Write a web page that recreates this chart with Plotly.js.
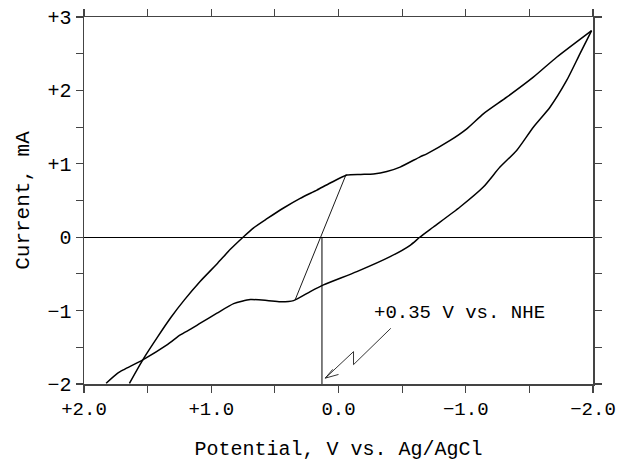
<!DOCTYPE html>
<html>
<head>
<meta charset="utf-8">
<script src="https://cdn.plot.ly/plotly-3.0.1.min.js"></script>
<style>html,body{margin:0;padding:0;background:#fff}#chart{width:620px;height:462px}</style>
</head>
<body>
<div id="chart"></div>
<script>
// Forward (upper) sweep: potential V vs Ag/AgCl, current mA
const forwardV = [1.643, 1.538, 1.420, 1.316, 1.211, 1.086, 0.950, 0.850, 0.746, 0.667, 0.562, 0.432, 0.301, 0.170, 0.065, -0.066, -0.175, -0.275, -0.380, -0.484, -0.641, -0.694, -0.877, -1.008, -1.138, -1.322, -1.531, -1.714, -1.989];
const forwardI = [-1.99, -1.67, -1.354, -1.09, -0.854, -0.60, -0.355, -0.165, 0.007, 0.128, 0.252, 0.398, 0.529, 0.642, 0.738, 0.846, 0.855, 0.862, 0.895, 0.955, 1.095, 1.136, 1.318, 1.476, 1.68, 1.907, 2.18, 2.452, 2.815];
// Reverse (lower) sweep
const reverseV = [-1.989, -1.897, -1.793, -1.662, -1.531, -1.400, -1.269, -1.138, -0.955, -0.746, -0.641, -0.563, -0.406, -0.144, 0.118, 0.222, 0.353, 0.458, 0.562, 0.693, 0.824, 0.955, 1.086, 1.159, 1.243, 1.342, 1.538, 1.682, 1.735, 1.826];
const reverseI = [2.815, 2.497, 2.135, 1.771, 1.499, 1.182, 0.955, 0.683, 0.411, 0.139, 0.003, -0.11, -0.265, -0.469, -0.650, -0.741, -0.864, -0.880, -0.862, -0.850, -0.905, -1.035, -1.172, -1.25, -1.331, -1.46, -1.67, -1.80, -1.852, -1.99];
// Construction lines
const tieV = [0.340, -0.060];
const tieI = [-0.85, 0.856];
const markV = [0.13, 0.13];
const markI = [0, -2];
// Lightning arrow path and open arrowhead
const boltV = [-0.411, -0.118, -0.118, 0.104];
const boltI = [-1.241, -1.736, -1.559, -1.92];
const headV = [0.045, 0.104, 0.0];
const headI = [-1.80, -1.92, -1.87];
const noteText = "+0.35 V vs. NHE";
const noteV = -0.95;
const noteI = -1.03;
// Ticks (every 0.5, labelled at whole numbers)
const xTickVals = [2, 1.5, 1, 0.5, 0, -0.5, -1, -1.5, -2];
const xTickText = ["+2.0", "", "+1.0", "", "0.0", "", "\u22121.0", "", "\u22122.0"];
const yTickVals = [3, 2.5, 2, 1.5, 1, 0.5, 0, -0.5, -1, -1.5, -2];
const yTickText = ["+3", "", "+2", "", "+1", "", "0", "", "\u22121", "", "\u22122"];

const FONT = "Liberation Mono, Courier New, monospace";
const line = (x, y, w) => ({x: x, y: y, type: 'scatter', mode: 'lines', line: {color: '#000', width: w, shape: 'spline', smoothing: 0.6}, hoverinfo: 'skip', showlegend: false});
const straight = (x, y, w) => ({x: x, y: y, type: 'scatter', mode: 'lines', line: {color: '#000', width: w}, hoverinfo: 'skip', showlegend: false});

const traces = [
  line(forwardV, forwardI, 1.5),
  line(reverseV, reverseI, 1.5),
  straight(tieV, tieI, 0.9),
  straight(markV, markI, 1),
  straight(boltV, boltI, 0.8),
  straight(headV, headI, 0.8)
];

const axisBase = {
  showline: true, linecolor: '#444', linewidth: 1.5, mirror: 'ticks',
  ticks: 'outside', ticklen: 7, tickwidth: 1.2, tickcolor: '#444',
  showgrid: false, tickmode: 'array'
};

const layout = {
  width: 620, height: 462,
  margin: {l: 84, r: 27, t: 17, b: 78},
  paper_bgcolor: '#fff', plot_bgcolor: '#fff',
  xaxis: Object.assign({}, axisBase, {
    range: [2, -2], tickvals: xTickVals, ticktext: xTickText,
    zeroline: false, tickfont: {family: FONT, size: 19, color: '#000'},
    title: {text: 'Potential, V vs. Ag/AgCl', font: {family: FONT, size: 20, color: '#000'}, standoff: 20}
  }),
  yaxis: Object.assign({}, axisBase, {
    range: [-2, 3], tickvals: yTickVals, ticktext: yTickText,
    zeroline: true, zerolinecolor: '#000', zerolinewidth: 1,
    tickfont: {family: FONT, size: 20, color: '#000'},
    title: {text: 'Current, mA', font: {family: FONT, size: 21, color: '#000'}, standoff: 12}
  }),
  annotations: [{
    x: noteV, y: noteI, xref: 'x', yref: 'y', text: noteText, showarrow: false,
    font: {family: FONT, size: 19, color: '#000'}
  }]
};

Plotly.newPlot('chart', traces, layout, {displayModeBar: false, staticPlot: true});
</script>
</body>
</html>
